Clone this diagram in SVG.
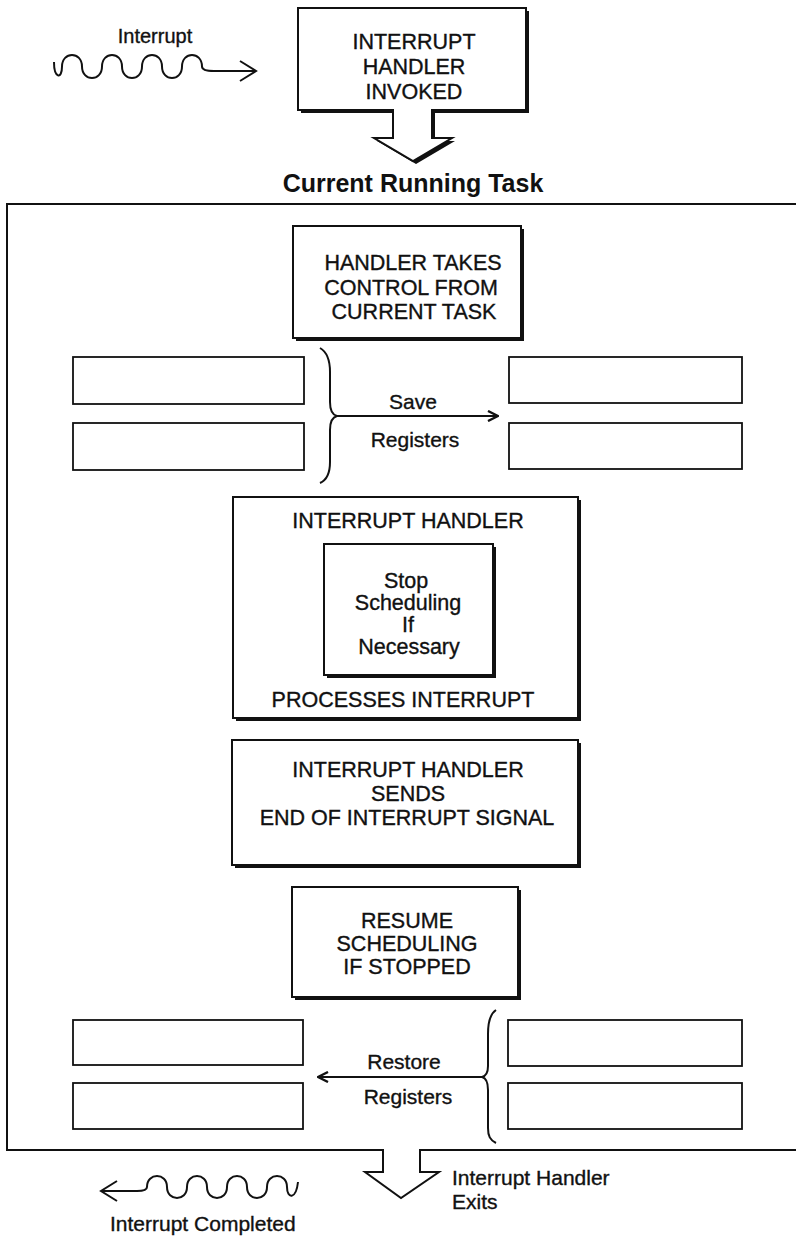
<svg xmlns="http://www.w3.org/2000/svg" width="796" height="1240" viewBox="0 0 796 1240">
  <style>
    .ln { fill: none; stroke: #111; stroke-width: 2; stroke-linejoin: miter; }
    .thin { fill: #fff; stroke: #111; stroke-width: 1.8; }
    .box { fill: #fff; stroke: #111; stroke-width: 2; }
    .shadow { fill: #111; }
    .t { font-family: "Liberation Sans", Arial, Helvetica, sans-serif; font-size: 21.5px; fill: #111; stroke: #111; stroke-width: 0.35; text-anchor: middle; }
    .lbl { font-family: "Liberation Sans", Arial, Helvetica, sans-serif; font-size: 21px; fill: #111; stroke: #111; stroke-width: 0.35; }
    .title { font-family: "Liberation Sans", Arial, Helvetica, sans-serif; font-size: 25px; font-weight: bold; fill: #111; text-anchor: middle; }
  </style>
  <defs>
    <!-- open V arrowhead used on the register arrows -->
    <marker id="vhead" viewBox="0 0 12 12" refX="11" refY="6" markerWidth="12" markerHeight="12" markerUnits="userSpaceOnUse" orient="auto">
      <polyline points="1,1 11,6 1,11" fill="none" stroke="#111" stroke-width="2.4"/>
    </marker>
  </defs>
  <rect width="796" height="1240" fill="#fff"/>

  <!-- incoming interrupt signal -->
  <g id="interrupt-in">
    <text class="lbl" x="155" y="43" text-anchor="middle" style="font-size:20px">Interrupt</text>
    <path class="ln" d="M54,62 C54,78 62,80 62,66.5 C62,51.2 82,51.2 82,66.5 C82,81.8 102,81.8 102,66.5 C102,51.2 122,51.2 122,66.5 C122,81.8 142,81.8 142,66.5 C142,51.2 162,51.2 162,66.5 C162,81.8 182,81.8 182,66.5 C182,51.2 202,51.2 202,66.5 C202,70 206,71 214,71 L255,71"/>
    <polyline class="ln" points="240,61 256,71 240,81" stroke-width="2.6"/>
  </g>

  <!-- handler invoked box with its down arrow -->
  <g id="handler-invoked">
    <path class="shadow" transform="translate(3,3)" d="M298,8 L526,8 L526,110 L432,110 L432,138 L452,138 L413,161 L374,138 L393,138 L393,110 L298,110 Z"/>
    <path class="box" d="M298,8 L526,8 L526,110 L432,110 L432,138 L452,138 L413,161 L374,138 L393,138 L393,110 L298,110 Z"/>
    <text class="t" x="414" y="49">INTERRUPT</text>
    <text class="t" x="414" y="74">HANDLER</text>
    <text class="t" x="414" y="99">INVOKED</text>
  </g>

  <text class="title" x="413" y="192">Current Running Task</text>

  <!-- task frame with exit arrow -->
  <g id="task-frame">
    <path class="ln" stroke-width="2.5" d="M800,204 L7,204 L7,1150 L383,1150 L383,1172 L365,1172 L401,1198 L439,1172 L420,1172 L420,1150 L800,1150"/>
  </g>

  <g id="takes-control">
    <rect class="shadow" x="296" y="229" width="228" height="112"/>
    <rect class="box" x="293" y="226" width="228" height="112"/>
    <text class="t" x="413" y="270">HANDLER TAKES</text>
    <text class="t" x="411" y="295">CONTROL FROM</text>
    <text class="t" x="414" y="319">CURRENT TASK</text>
  </g>

  <g id="regs-save-src">
    <rect class="thin" x="73" y="357" width="231" height="47"/>
    <rect class="thin" x="73" y="423" width="231" height="47"/>
  </g>
  <g id="regs-save-dst">
    <rect class="thin" x="509" y="357" width="233" height="46"/>
    <rect class="thin" x="509" y="423" width="233" height="46"/>
  </g>

  <g id="handler-processes">
    <rect class="shadow" x="236" y="500" width="345" height="221"/>
    <rect class="box" x="233" y="497" width="345" height="221"/>
    <text class="t" x="408" y="528">INTERRUPT HANDLER</text>
    <text class="t" x="403" y="707">PROCESSES INTERRUPT</text>
  </g>

  <g id="stop-scheduling">
    <rect class="shadow" x="327" y="547" width="169" height="131"/>
    <rect class="box" x="324" y="544" width="169" height="131"/>
    <text class="t" x="406" y="588">Stop</text>
    <text class="t" x="408" y="610">Scheduling</text>
    <text class="t" x="408" y="632">If</text>
    <text class="t" x="409" y="654">Necessary</text>
  </g>

  <g id="end-of-interrupt">
    <rect class="shadow" x="235" y="743" width="346" height="125"/>
    <rect class="box" x="232" y="740" width="346" height="125"/>
    <text class="t" x="408" y="777">INTERRUPT HANDLER</text>
    <text class="t" x="408" y="801">SENDS</text>
    <text class="t" x="407" y="825">END OF INTERRUPT SIGNAL</text>
  </g>

  <g id="resume-scheduling">
    <rect class="shadow" x="295" y="890" width="226" height="110"/>
    <rect class="box" x="292" y="887" width="226" height="110"/>
    <text class="t" x="407" y="928">RESUME</text>
    <text class="t" x="407" y="951">SCHEDULING</text>
    <text class="t" x="407" y="974">IF STOPPED</text>
  </g>

  <g id="regs-restore-dst">
    <rect class="thin" x="73" y="1020" width="230" height="45"/>
    <rect class="thin" x="73" y="1083" width="230" height="46"/>
  </g>
  <g id="regs-restore-src">
    <rect class="thin" x="508" y="1020" width="234" height="46"/>
    <rect class="thin" x="508" y="1083" width="234" height="46"/>
  </g>

  <!-- braces and register transfer arrows -->
  <g id="connectors">
    <path class="ln" d="M320,348 C327,352 330,360 330,372 L330,402 C330,410 333,415 337,416 C333,417 330,422 330,430 L330,462 C330,474 327,480 320,483"/>
    <line class="ln" x1="337" y1="416" x2="498" y2="416" marker-end="url(#vhead)"/>
    <text class="lbl" x="413" y="409" text-anchor="middle">Save</text>
    <text class="lbl" x="415" y="447" text-anchor="middle">Registers</text>

    <path class="ln" d="M496,1010 C490,1014 488,1022 488,1034 L488,1066 C488,1073 486,1076 482,1077 C486,1078 488,1082 488,1090 L488,1128 C488,1136 490,1140 496,1143"/>
    <line class="ln" x1="482" y1="1077" x2="318" y2="1077" marker-end="url(#vhead)"/>
    <text class="lbl" x="404" y="1069" text-anchor="middle">Restore</text>
    <text class="lbl" x="408" y="1104" text-anchor="middle">Registers</text>
  </g>

  <!-- exit labels and completed signal -->
  <g id="handler-exits">
    <text class="lbl" x="452" y="1185">Interrupt Handler</text>
    <text class="lbl" x="452" y="1209">Exits</text>
  </g>

  <g id="interrupt-out">
    <path class="ln" d="M102,1191 L137,1191 C143,1191 147,1190 147,1187 C147,1172.4 167,1172.4 167,1187 C167,1201.6 187,1201.6 187,1187 C187,1172.4 207,1172.4 207,1187 C207,1201.6 227,1201.6 227,1187 C227,1172.4 247,1172.4 247,1187 C247,1201.6 267,1201.6 267,1187 C267,1172.4 287,1172.4 287,1187 C287,1199 296,1200 298,1182"/>
    <polyline class="ln" points="117,1181 101,1191 117,1201" stroke-width="2.6"/>
    <text class="lbl" x="110" y="1231">Interrupt Completed</text>
  </g>

  <!-- figure number, clipped by the bottom edge -->
  <text x="745" y="1248" style="font-family:'Liberation Sans',Arial,sans-serif;font-size:11px;font-weight:bold;fill:#111">MA-0278-88</text>
</svg>
